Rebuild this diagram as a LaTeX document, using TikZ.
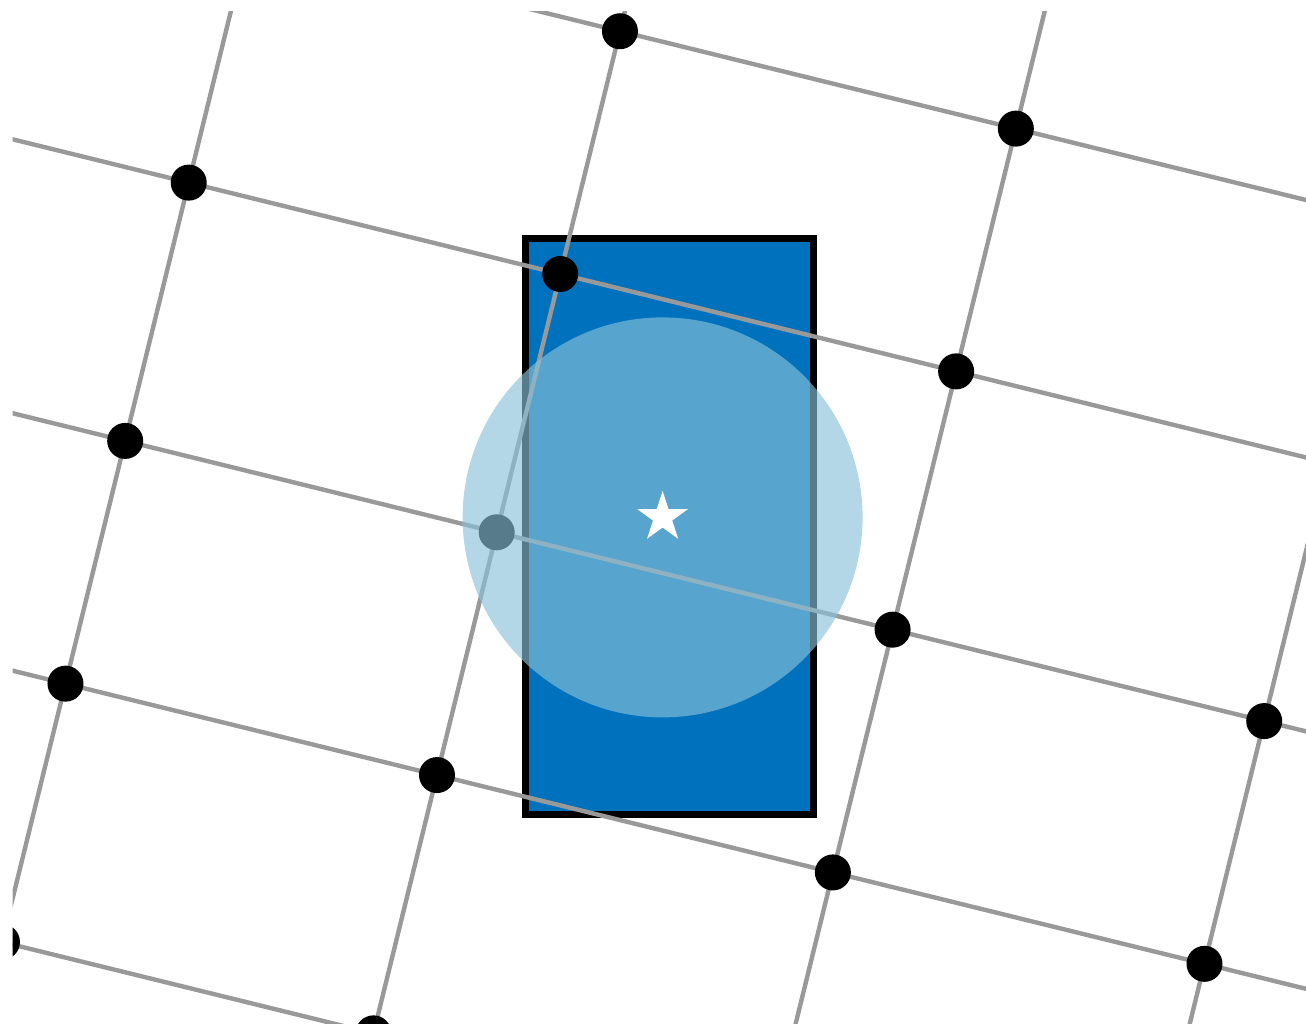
\documentclass[tikz,border=0pt]{standalone}
\usepackage{xcolor}
\usepackage{tikz}
\usetikzlibrary{shapes.geometric}
\definecolor{gridgray}{HTML}{999999}
\definecolor{pixblue}{HTML}{0072BD}
\definecolor{halo}{RGB}{137,193,218}
\tikzset{
  gridline/.style={
    draw=gridgray, line width=2.2pt
  },
  gridpt/.style={
    circle, fill=black, minimum size=18pt, inner sep=0pt
  },
  pixelbox/.style={
    rectangle, draw=black, fill=pixblue, line width=3.5pt,
    minimum width=144pt, minimum height=288pt, inner sep=0pt
  },
  footprint/.style={
    circle, fill=halo, fill opacity=0.64,
    minimum size=200pt, inner sep=0pt
  },
  samplestar/.style={
    star, star points=5, star point ratio=2.618, fill=white,
    minimum size=26.5pt, inner sep=0pt
  },
}
\begin{document}
\begin{tikzpicture}[x=0.5pt, y=0.5pt]
\useasboundingbox (0,0) rectangle (1306,1023);
\node[pixelbox] (pixel) at (669.2,496.5) {};
\begin{scope}
  \clip (12.5,0) rectangle (1306,1011);
  \begin{scope}[shift={(496.7,490.7)}, rotate=-13.82]
    \foreach \u in {-382.6,0,407.7,790.4}
      \draw[gridline] (\u,-800) -- (\u,800);
    \foreach \w in {516,266,0,-250,-516}
      \draw[gridline] (-900,\w) -- (1100,\w);
    \foreach \u [count=\i] in {-382.6,0,407.7,790.4}
      \foreach \w [count=\j] in {516,266,0,-250,-516}
        \node[gridpt] (d-\i-\j) at (\u,\w) {};
  \end{scope}
\end{scope}
\node[footprint] (support) at (662.6,505.6) {};
\node[samplestar] (sample) at (support.center) {};
\end{tikzpicture}
\end{document}
